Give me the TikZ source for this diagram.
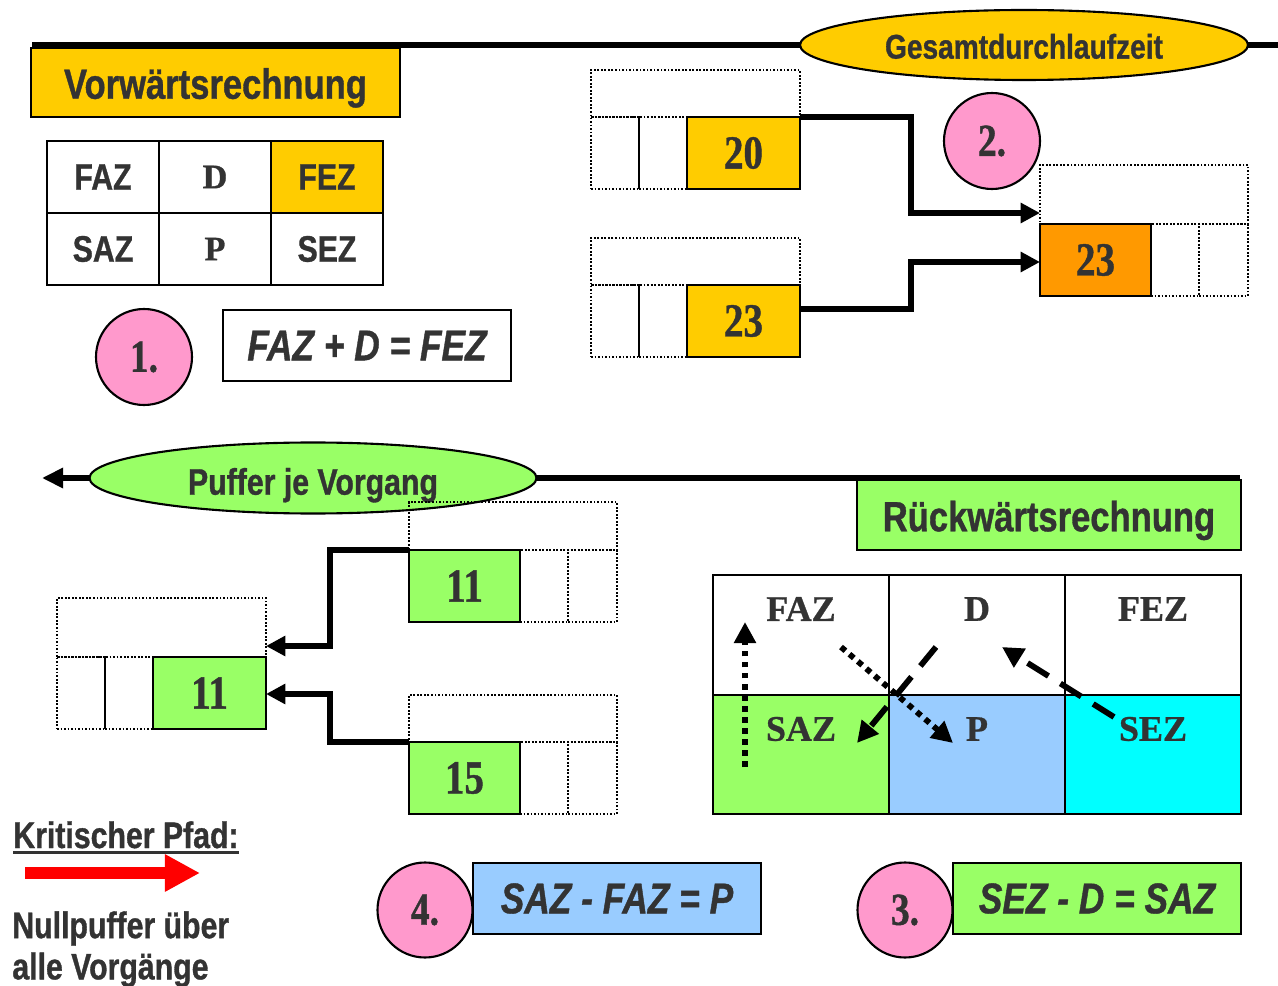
\documentclass[tikz,border=0pt]{standalone}
\usepackage{fontspec}
\setmainfont{Liberation Serif}[BoldFeatures={FakeBold=0.8}]
\newfontfamily\sn[FakeStretch=0.82, BoldFeatures={FakeBold=0.9}, BoldItalicFeatures={FakeBold=0.9}]{Liberation Sans}
\newfontfamily\nf[FakeStretch=0.82, BoldFeatures={FakeBold=0.9}]{Liberation Serif}
\usetikzlibrary{arrows.meta,shapes.geometric,calc}
\definecolor{txt}{HTML}{333333}
\definecolor{gelb}{HTML}{FFCC00}
\definecolor{orng}{HTML}{FF9900}
\definecolor{gruen}{HTML}{99FF66}
\definecolor{blau}{HTML}{99CCFF}
\definecolor{cyn}{HTML}{00FFFF}
\definecolor{rosa}{HTML}{FF99CC}
\tikzset{
  box/.style={draw=black, line width=1.2pt, inner sep=0pt, outer sep=0pt, anchor=north west, text=txt},
  dotc/.style={draw=black, densely dotted, line width=1pt, inner sep=0pt, outer sep=0pt, anchor=north west},
  numc/.style={draw=black, line width=1.3pt, inner sep=0pt, outer sep=0pt, anchor=north west,
    minimum height=72*0.02cm, font=\nf\bfseries\fontsize{27}{30}\selectfont, text=txt},
  conn/.style={line width=3.3pt, -{Triangle[length=11pt,width=11pt]}},
  titel/.style={box, font=\sn\bfseries\fontsize{24}{28}\selectfont, text height=23.5pt, text depth=5pt},
  oval/.style={ellipse, draw=black, line width=1.2pt, inner sep=0pt, text=txt, font=\sn\bfseries\fontsize{19.5}{23}\selectfont},
  tsans/.style={box, font=\sn\bfseries\fontsize{21}{24}\selectfont, minimum width=112*0.02cm, minimum height=72*0.02cm},
  tserif/.style={box, font=\bfseries\fontsize{19.5}{23}\selectfont, minimum width=112*0.02cm, minimum height=72*0.02cm},
  formel/.style={box, font=\sn\bfseries\itshape\fontsize{24.5}{28}\selectfont, minimum width=288*0.02cm, minimum height=71*0.02cm},
  kreis/.style={circle, draw=black, line width=1.2pt, fill=rosa, inner sep=0pt, text=txt, font=\nf\bfseries\fontsize{26}{30}\selectfont},
  rcell/.style={box, minimum width=176*0.02cm, minimum height=120*0.02cm},
  rtext/.style={text=txt, inner sep=0pt, font=\bfseries\fontsize{20.5}{24}\selectfont},
  plain/.style={text=txt, inner sep=0pt, font=\sn\bfseries\fontsize{21}{24}\selectfont},
  tarrow/.style={line width=3.3pt, -{Triangle[length=12pt,width=12pt]}},
  dotarrow/.style={tarrow, dash pattern=on 3.3pt off 3pt},
  dasharrow/.style={tarrow, dash pattern=on 14pt off 8pt},
}
% activity node, coloured cell on the right
\newcommand\vgR[6]{%
  \node[dotc, minimum width=209*0.02cm, minimum height=#4*0.02cm] (#1t) at (#2,#3) {};
  \node[dotc, minimum width=48*0.02cm, minimum height=72*0.02cm] (#1a) at (#1t.south west) {};
  \node[dotc, minimum width=48*0.02cm, minimum height=72*0.02cm] (#1b) at (#1a.north east) {};
  \node[numc, fill=#6, minimum width=113*0.02cm] (#1n) at (#1b.north east) {#5};
}
% activity node, coloured cell on the left
\newcommand\vgL[6]{%
  \node[dotc, minimum width=208*0.02cm, minimum height=#4*0.02cm] (#1t) at (#2,#3) {};
  \node[numc, fill=#6, minimum width=111*0.02cm] (#1n) at (#1t.south west) {#5};
  \node[dotc, minimum width=48*0.02cm, minimum height=72*0.02cm] (#1a) at (#1n.north east) {};
  \node[dotc, minimum width=49*0.02cm, minimum height=72*0.02cm] (#1b) at (#1a.north east) {};
}
\begin{document}
\begin{tikzpicture}[x=0.02cm, y=-0.02cm]
\useasboundingbox[fill=white] (0,0) rectangle (1278,986);

% time lines
\coordinate (l1a) at (32,45); \coordinate (l1b) at (1278,45);
\draw[line width=3.3pt] (l1a) -- (l1b);
\coordinate (l2a) at (1240,478); \coordinate (l2b) at (42,478);
\draw[line width=3.3pt, -{Triangle[length=12pt,width=11pt]}] (l2a) -- (l2b);

\node[oval, fill=gelb, minimum width=448*0.02cm, minimum height=70*0.02cm, text height=19.5pt, text depth=4pt] (ges) at (1024,45) {Gesamtdurchlaufzeit};
\node[oval, fill=gruen, minimum width=447*0.02cm, minimum height=71*0.02cm, text height=23pt, text depth=4pt, font=\sn\bfseries\fontsize{21}{24}\selectfont] (puf) at (313,478) {Puffer je Vorgang};

% titles
\node[titel, fill=gelb, minimum width=369*0.02cm, minimum height=69*0.02cm] (vor) at (31,48) {Vorwärtsrechnung};
\node[titel, fill=gruen, minimum width=384*0.02cm, minimum height=70*0.02cm] (rue) at (857,480) {Rückwärtsrechnung};

% legend table top left
\node[tsans] (t11) at (47,141) {FAZ};
\node[tserif] (t12) at (159,141) {D};
\node[tsans, fill=gelb] (t13) at (271,141) {FEZ};
\node[tsans] (t21) at (47,213) {SAZ};
\node[tserif] (t22) at (159,213) {P};
\node[tsans] (t23) at (271,213) {SEZ};

% step 1
\node[kreis, minimum size=96*0.02cm] (k1) at (144,357) {1.};
\node[formel] (f1) at (223,310) {FAZ + D = FEZ};

% forward pass
\vgR{A}{591}{70}{47}{20}{gelb}
\vgR{B}{591}{238}{47}{23}{gelb}
\vgL{C}{1040}{165}{59}{23}{orng}
\node[kreis, minimum size=96*0.02cm] (k2) at (992,141) {2.};
\coordinate (j1) at (911,213);
\draw[conn] (An.north east) -| (j1) -- (j1 -| Ct.west);
\coordinate (j2) at (911,262);
\draw[conn] ($(Bn.north east)+(0,24)$) -| (j2) -- (j2 -| Cn.west);

% backward pass
\vgL{D}{409}{502}{48}{11}{gruen}
\vgL{E}{409}{695}{47}{15}{gruen}
\vgR{F}{57}{598}{59}{11}{gruen}
\coordinate (j3) at (330,646);
\draw[conn] (Dn.north west) -| (j3) -- (j3 -| Ft.east);
\coordinate (j4) at (330,694);
\draw[conn] (En.north west) -| (j4) -- (j4 -| Fn.east);

% right table
\node[rcell] (r11) at (713,575) {};
\node[rcell] (r12) at (889,575) {};
\node[rcell] (r13) at (1065,575) {};
\node[rcell, fill=gruen, minimum height=119*0.02cm] (r21) at (713,695) {};
\node[rcell, fill=blau, minimum height=119*0.02cm] (r22) at (889,695) {};
\node[rcell, fill=cyn, minimum height=119*0.02cm] (r23) at (1065,695) {};
\node[rtext] (x11) at (801,609) {FAZ};
\node[rtext] (x12) at (977,609) {D};
\node[rtext] (x13) at (1153,609) {FEZ};
\node[rtext] (x21) at (801,729) {SAZ};
\node[rtext] (x22) at (977,729) {P};
\node[rtext] (x23) at (1153,729) {SEZ};
\coordinate (a1s) at (745,767); \coordinate (a1e) at (745,622);
\draw[dotarrow] (a1s) -- (a1e);
\coordinate (a2s) at (841,647); \coordinate (a2e) at (953,743);
\draw[dotarrow] (a2s) -- (a2e);
\coordinate (a3s) at (936,647); \coordinate (a3e) at (857,743);
\draw[dasharrow] (a3s) -- (a3e);
\coordinate (a4s) at (1114,717); \coordinate (a4e) at (1002,647);
\draw[dasharrow] (a4s) -- (a4e);

% steps 3 and 4
\node[kreis, minimum size=95*0.02cm] (k4) at (425,910) {4.};
\node[formel, fill=blau] (f4) at (473,863) {SAZ - FAZ = P};
\node[kreis, minimum size=95*0.02cm] (k3) at (905,910) {3.};
\node[formel, fill=gruen] (f3) at (953,863) {SEZ - D = SAZ};

% critical path legend
\node[plain, anchor=base west] (kp) at (13,848) {Kritischer Pfad:};
\draw[txt, line width=1.7pt] ([yshift=-2.5pt]kp.base west) -- ([yshift=-2.5pt]kp.base east);
\coordinate (ra) at (25,873); \coordinate (rb) at (200,873);
\draw[red, line width=7.2pt, -{Triangle[length=20pt,width=20pt]}] (ra) -- (rb);
\node[plain, anchor=north west, align=left, font=\sn\bfseries\fontsize{21}{23.5}\selectfont] (np) at (12,911) {Nullpuffer über\\alle Vorgänge};
\end{tikzpicture}
\end{document}
